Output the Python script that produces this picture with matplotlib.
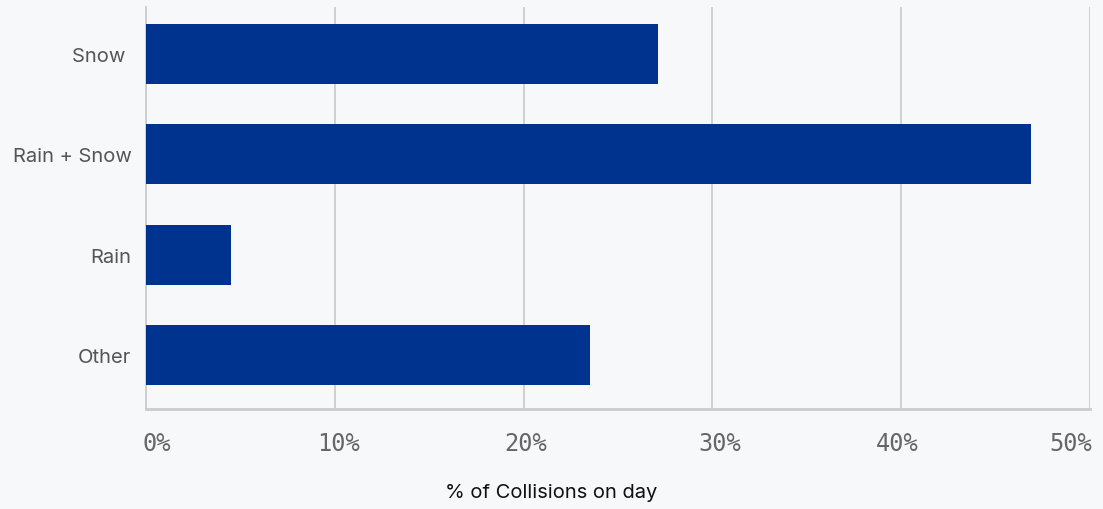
import matplotlib
matplotlib.use("Agg")
import matplotlib.pyplot as plt
import matplotlib.transforms as mtransforms

categories = ["Snow ", "Rain + Snow", "Rain", "Other"]
values = [27.1, 46.9, 4.5, 23.5]
xticks = [0, 10, 20, 30, 40, 50]
xticklabels = ["0%", "10%", "20%", "30%", "40%", "50%"]

bg = "#f7f8fa"
fig = plt.figure(figsize=(11.03, 5.10), dpi=100, facecolor=bg)
ax = fig.add_axes([146/1103, 100/510, (1090-146)/1103, (410-8)/510], facecolor=bg)

pos = list(range(len(categories)))[::-1]
ax.barh(pos, values, height=0.6, color="#00338d", zorder=3)
ax.set_yticks(pos)
ax.set_yticklabels(categories, family="Inter", fontsize=14.5, color="#555555")
ax.set_ylim(-0.54, 3.47)
ax.set_xlim(0, 50)
ax.set_xticks(xticks)
ax.set_xticklabels([])
ax.tick_params(axis="x", length=0)
ax.tick_params(axis="y", length=0, pad=10.5)

# tick labels placed with small horizontal nudges (in pixels)
offsets_px = [11, 4, 2, 7, -4, -19]
trans = mtransforms.blended_transform_factory(ax.transData, ax.transAxes)
for v, t, dx in zip(xticks, xticklabels, offsets_px):
    ax.text(v, 0, t, transform=trans + mtransforms.ScaledTranslation(dx / 100, -34 / 100, fig.dpi_scale_trans),
            ha="center", va="center", family="DejaVu Sans Mono", fontsize=17, color="#666666", clip_on=False)

ax.grid(axis="x", color="#cccccc", linewidth=1.3, zorder=0)
for s in ["top", "right"]:
    ax.spines[s].set_visible(False)
ax.spines["left"].set_color("#cccccc")
ax.spines["bottom"].set_color("#cccccc")
ax.spines["left"].set_linewidth(1.3)
ax.spines["bottom"].set_linewidth(2)
fig.text(0.5, 1 - 493/510, "% of Collisions on day", family="Inter", fontsize=14.5, color="#111111",
         ha="center", va="center")

fig.savefig("out.png", dpi=100, facecolor=bg)
